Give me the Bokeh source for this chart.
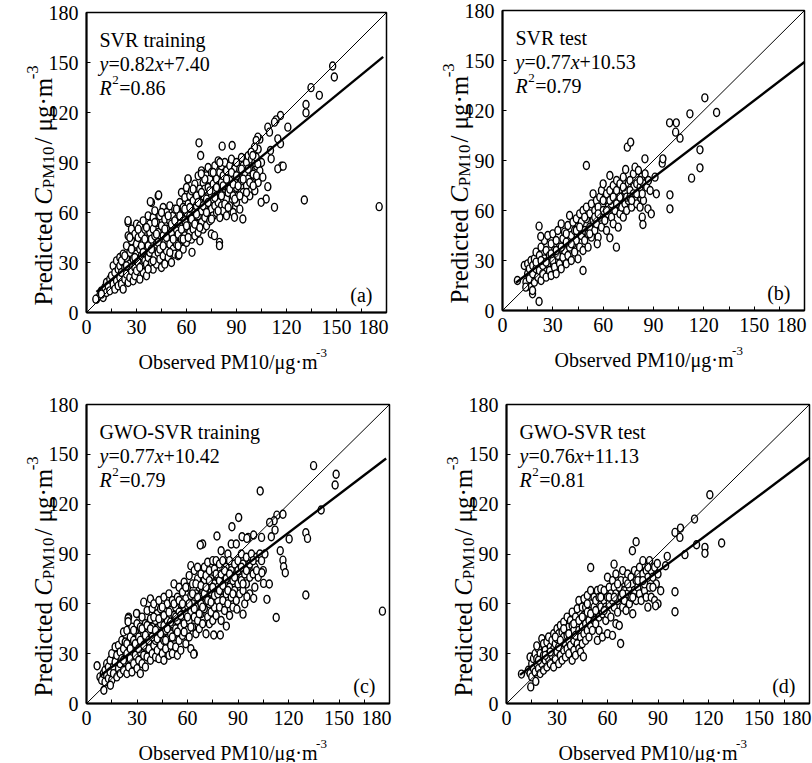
import math
from bokeh.plotting import figure
from bokeh.models import Label, Range1d, FixedTicker
from bokeh.layouts import column, row
from bokeh.embed import file_html
from bokeh.resources import INLINE

FONT = "Liberation Serif"

# ---------------- data ----------------
panel_titles = ["SVR training", "SVR test", "GWO-SVR training", "GWO-SVR test"]
panel_tags = ["(a)", "(b)", "(c)", "(d)"]
fit_slope = [0.82, 0.77, 0.77, 0.76]
fit_intercept = [7.40, 10.53, 10.42, 11.13]
fit_intercept_text = ["7.40", "10.53", "10.42", "11.13"]
r2_text = ["0.86", "0.79", "0.79", "0.81"]
fit_x_start = [6, 8, 8, 8]
fit_x_end = [178, 180, 178, 180]
axis_span = [0, 180]
x_ticks = [0, 30, 60, 90, 120, 150, 180]
x_minor_ticks = [15, 45, 75, 105, 135, 165]
y_ticks = [0, 30, 60, 90, 120, 150, 180]

svr_train = [
    (6,8),(8,10),(9,13),(10,9),(11,15),(12,12),(12,18),(13,16),(14,20),(14,13),
    (15,22),(16,17),(16,28),(17,14),(17,24),(18,31),(18,19),(19,26),(19,16),(20,33),(20,21),(20,28),(21,17),(21,24),(22,30),(22,35),(22,14),(23,20),(23,27),
    (24,33),(24,40),(24,23),(25,46),(25,18),(25,54),(26,29),(26,36),(26,21),(27,43),(27,25),(27,50),(28,32),(28,19),(28,38),(29,27),(29,47),(29,22),(30,53),(30,35),(30,41),(30,25),
    (31,30),(31,45),(32,20),(32,38),(32,52),(33,28),(33,34),(33,47),(34,24),(34,42),(34,55),(35,31),(35,37),(35,50),(36,22),(36,44),(36,29),(37,40),(37,58),(37,33),(38,27),(38,48),(38,53),(38,36),
    (39,66),(39,30),(39,44),(40,38),(40,57),(40,26),(40,50),(41,34),(41,46),(41,61),(42,41),(42,29),(42,54),(43,70),(43,36),(43,48),(44,32),(44,58),(44,44),(45,27),(45,52),(45,39),(46,63),(46,46),(46,34),
    (47,56),(47,29),(47,42),(48,50),(48,37),(48,60),(49,33),(49,45),(50,55),(50,41),(50,64),(51,30),(51,48),(52,38),(52,58),(52,52),(53,44),(53,62),(53,35),(54,50),(54,56),(54,41),
    (55,34),(55,60),(55,47),(56,66),(56,53),(56,40),(57,72),(57,44),(57,58),(58,50),(58,63),(58,38),(59,55),(59,69),(59,46),(60,42),(60,60),(60,75),(61,52),(61,80),(61,65),(62,48),(62,58),(62,70),
    (63,44),(63,62),(63,73),(64,55),(64,67),(64,50),(65,60),(65,77),(65,46),(66,70),(66,53),(66,64),(67,58),(67,82),(67,48),(68,66),(68,74),(68,43),(69,61),(69,85),(69,54),(70,70),(70,50),(70,78),
    (71,63),(71,74),(71,57),(72,82),(72,68),(72,52),(73,75),(73,60),(73,87),(74,66),(74,80),(74,55),(75,71),(75,62),(75,84),(76,77),(76,58),(76,68),(77,88),(77,73),(77,64),(78,80),(78,60),(78,70),
    (79,76),(79,91),(79,66),(80,84),(80,72),(80,57),(81,78),(81,88),(81,64),(82,82),(82,70),(82,61),(83,76),(83,90),(84,68),(84,85),(84,58),(85,79),(85,72),(86,88),(86,64),(86,80),
    (87,74),(87,92),(88,70),(88,83),(88,60),(89,78),(89,87),(90,66),(90,90),(90,75),(91,82),(91,70),(92,86),(92,62),(93,79),(93,93),(94,72),(94,88),
    (95,84),(95,68),(96,90),(96,76),(97,80),(97,94),(98,70),(98,86),(99,92),(99,78),(100,83),(100,96),(101,73),(102,88),(103,78),(103,98),(104,85),(104,104),(105,90),
    (21,31),(23,34),(24,28),(26,45),(27,38),(29,33),(31,50),(32,27),(33,40),(34,36),(35,44),(36,51),(37,26),(39,38),(40,31),(41,54),(42,47),(43,42),(44,38),(45,60),
    (46,40),(47,50),(48,45),(49,58),(50,36),(51,53),(52,44),(53,55),(54,62),(55,40),(56,58),(57,50),(58,44),(59,62),(60,52),(61,45),(62,63),(63,56),(64,74),(65,53),
    (66,59),(67,66),(68,51),(69,72),(70,64),(71,80),(72,60),(73,66),(74,73),(75,56),(76,84),(77,69),(78,75),(79,61),(80,90),(81,70),(82,76),(83,65),(84,80),(85,63),
    (86,74),(87,84),(88,77),(89,68),(90,82),(91,76),(92,70),(93,86),(94,80),(96,72),(97,86),(98,78),(100,76),(101,90),(102,82),
    (175.6,63.5),(130.7,67.5),(147.7,147.9),(148.7,141.3),(134.7,134.9),(139.7,130.3),(131.7,124.8),(131.7,119.8),(116.4,118.2),(113.8,115.6),(112.8,114.2),
    (120.8,111.2),(108.8,111.2),(109.8,108.2),(116.4,101.2),(114.8,104.2),(110.4,97.2),(117,87.8),(114.8,86.2),(118,87.8),(110.8,92.2),(112.8,63.1),(107.8,68.1),
    (104.8,66.1),(108.8,75.5),(105.8,81.2),(102.8,89.2),(101.8,93.2),(102.8,105.2),(101.8,103.2),(100.8,99.2),(98.8,96.2),(99.8,94.2),(93.8,56.1),(88.8,57.1),
    (74.9,47.1),(76.8,46.1),(79.8,42.1),(79.8,40.1),(63.3,36.1),(67.5,101.8),(68.5,94.2),(81.4,99.8),(87.4,100.2),(38.3,66.5),(43.3,70.5),(24.9,55.1),(60.9,80.2),
    (68.9,83.2),(5.6,8.0),(9,11),(55.5,34.7),
]

svr_test = [
    (13,27),(14,17),(15,22),(15,28),(16,19),(16,25),(17,14),(17,30),(18,22),(18,27),(19,17),(19,31),(20,25),(20,35),(21,20),(21,29),(22,24),(22,33),(23,18),(23,38),
    (24,27),(24,22),(25,31),(25,42),(26,20),(26,36),(27,28),(27,45),(28,24),(28,33),(29,40),(29,21),(30,30),(30,46),(31,26),(31,36),(32,42),(32,22),(33,33),(33,48),
    (34,28),(34,38),(35,52),(35,25),(36,43),(36,32),(37,36),(37,47),(38,28),(38,41),(39,51),(39,33),(40,38),(40,57),(41,45),(41,30),(42,53),(42,40),(43,35),(43,48),
    (44,55),(44,42),(45,31),(45,50),(46,38),(46,58),(47,45),(47,53),(48,36),(48,60),(49,48),(49,42),(50,55),(50,62),(51,46),(51,38),(52,58),(52,50),(53,64),(53,44),
    (54,70),(54,54),(55,60),(55,48),(56,66),(56,52),(57,62),(57,44),(58,56),(58,68),(59,72),(59,50),(60,60),(60,76),(61,54),(61,66),(62,70),(62,48),(63,62),(63,58),
    (64,81),(64,72),(65,64),(65,56),(66,75),(66,52),(67,68),(67,60),(68,72),(68,78),(69,64),(69,50),(70,76),(70,58),(71,68),(71,62),(72,80),(72,56),(73,72),(73,64),
    (74,60),(75,76),(75,66),(76,72),(77,62),(78,82),(78,70),(79,86),(79,66),(80,76),(80,64),(81,84),(81,70),(82,74),(82,62),(83,80),(84,76),(84,66),(85,82),(86,74),
    (87,78),(88,72),
    (20,29),(23,30),(26,29),(29,34),(32,36),(35,38),(38,46),(41,40),(44,48),(46,50),(49,56),(52,46),(55,56),(57,58),(60,66),(62,60),(64,66),(66,68),(68,64),(70,68),
    (72,74),(74,68),(76,78),(80,70),(82,78),
    (8.9,18),(21.8,5.4),(17.9,10),(17.9,12),(13.9,14),(21.8,50.6),(22.8,44.4),(50,87),(48,24),(56.5,40),(67.9,38),(64,43.6),(74.4,98),(76.4,101),(73.4,84.6),
    (84.9,91),(83.3,70),(83.3,56),(83.7,51.6),(86.7,61),(88.7,58),(91.7,70),(90.9,80),(95.2,88.4),(95.6,91),(99.6,112.6),(103.6,112.6),(103.2,107),(105.8,103.4),
    (99.8,69.4),(99.8,61),(111.7,118),(120.6,127.6),(127.6,118.8),(117.7,96.4),(117.7,85.6),(112.7,79.4),(76,68),(77,66),
]

gwo_train = [
    (8,16),(9,14),(10,18),(11,20),(11,13),(12,17),(12,24),(13,15),(13,22),(14,19),(14,26),
    (15,14),(15,30),(16,22),(16,18),(17,34),(17,25),(18,16),(18,29),(19,21),(19,35),(20,24),(20,18),(20,31),(21,38),(21,27),(22,20),(22,33),(22,43),
    (23,25),(23,37),(24,18),(24,30),(24,44),(25,22),(25,52),(25,35),(26,27),(26,40),(27,19),(27,33),(27,46),(28,24),(28,38),(29,29),(29,43),(30,21),(30,35),(30,48),(30,54),
    (31,26),(31,40),(32,31),(32,46),(32,18),(33,37),(33,52),(33,24),(34,42),(34,29),(34,61),(35,34),(35,48),(35,22),(36,39),(36,56),(36,28),(37,44),(37,33),(38,51),(38,26),(38,38),(38,63),
    (39,30),(39,46),(39,57),(40,35),(40,42),(40,60),(41,28),(41,50),(41,38),(42,54),(42,32),(42,45),(43,40),(43,62),(43,27),(44,48),(44,35),(44,57),(45,30),(45,52),(45,42),(46,64),(46,38),(46,47),(46,26),
    (47,55),(47,33),(47,44),(48,60),(48,39),(48,50),(49,29),(49,47),(49,66),(50,42),(50,56),(50,35),(51,62),(51,48),(51,30),(52,53),(52,40),(52,72),(53,45),(53,58),(53,34),(54,64),(54,50),(54,29),
    (55,38),(55,55),(55,70),(56,46),(56,60),(56,32),(57,67),(57,52),(57,41),(58,73),(58,48),(58,58),(59,36),(59,63),(59,54),(60,44),(60,70),(60,59),(61,50),(61,77),(61,40),(62,65),(62,55),(62,83),(62,33),
    (63,46),(63,72),(63,60),(64,30),(64,52),(64,80),(65,66),(65,42),(65,58),(66,75),(66,50),(66,82),(67,62),(67,45),(67,70),(68,54),(68,78),(68,60),(69,96),(69,48),(69,68),(70,74),(70,57),(70,82),
    (71,64),(71,42),(71,77),(72,52),(72,70),(72,85),(73,60),(73,48),(73,80),(74,67),(74,75),(74,55),(75,86),(75,62),(75,50),(76,72),(76,81),(76,58),(77,66),(77,86),(77,53),(78,76),(78,62),(78,70),
    (79,84),(79,58),(79,74),(80,68),(80,92),(80,50),(81,78),(81,62),(81,86),(82,72),(82,56),(83,82),(83,66),(84,90),(84,60),(84,76),(85,70),(85,53),(85,86),(86,64),(86,80),(86,96),
    (87,74),(87,58),(88,84),(88,68),(89,78),(89,62),(89,96),(90,72),(90,86),(91,66),(91,80),(92,74),(92,90),(93,84),(93,68),(94,78),(94,60),
    (95,88),(95,72),(96,82),(96,100),(97,76),(97,66),(98,86),(98,90),(99,78),(100,82),(100,70),(101,88),(102,76),(103,90),(104,86),(104,100),(105,80),(106,90),
    (22,26),(24,36),(26,33),(28,44),(29,36),(31,33),(32,38),(33,45),(34,35),(35,41),(36,47),(37,38),(38,45),(39,40),(40,52),(41,44),(42,39),(43,51),(44,42),(45,58),
    (46,53),(47,38),(48,45),(49,55),(50,49),(51,40),(52,60),(53,52),(54,43),(55,62),(56,53),(57,60),(58,43),(59,70),(60,52),(61,60),(62,46),(63,66),(64,57),(65,72),
    (66,64),(67,54),(68,71),(69,58),(70,66),(71,70),(72,62),(73,74),(74,61),(75,70),(76,65),(77,78),(78,66),(79,68),(80,78),(81,71),(82,80),(83,75),(84,68),(85,78),
    (87,66),(88,76),(90,80),(92,82),(93,72),(95,80),(97,84),(99,86),(101,80),
    (6.3,22.7),(10.3,8),(14.2,11),(175.8,55.6),(134.9,143.2),(148.3,138),(147.7,131.5),(139.4,116.5),(130.3,102.8),(131.3,99.4),(130.3,65.3),(120.4,99),
    (112.7,51.8),(103.2,127.9),(90.4,112),(86.4,106.4),(77.5,100.8),(67.6,95.4),(113.1,113.4),(111.5,110),(112,104.4),(116.7,113.9),(108.8,109),(109.8,100.4),
    (115.1,92),(116.7,86.3),(117.1,82.3),(118.1,78.7),(105.2,72.3),(107.2,62.7),(108.6,71.9),(104.2,78.7),(93,53.8),(89.4,56.8),(83.1,46.6),(79.5,41.2),
    (75.6,41.2),(63.7,29.7),(24.7,51.2),(24.7,49.2),(29.7,54.2),(95.3,64.3),(99.3,63.3),(92.4,100.4),(99.3,101.4),(95.3,99.4),
]

gwo_test = [
    (13,20),(14,28),(14,18),(15,24),(15,16),(16,27),(16,21),(17,19),(17,30),(18,24),(18,27),(19,21),(19,33),(20,26),(20,18),(20,30),
    (21,39),(21,24),(22,29),(22,36),(22,20),(23,32),(23,26),(24,37),(24,22),(25,30),(25,40),(25,27),(26,34),(26,24),(27,38),(27,29),(28,42),(28,33),(28,22),
    (29,36),(29,27),(30,45),(30,31),(30,39),(31,24),(31,42),(31,34),(32,47),(32,29),(33,37),(33,43),(33,26),(34,40),(34,49),(34,32),(35,36),(35,44),(35,28),(36,41),(36,52),(36,33),
    (37,46),(37,30),(37,38),(38,50),(38,35),(38,42),(39,26),(39,47),(39,55),(40,38),(40,44),(40,32),(41,52),(41,41),(41,29),(42,48),(42,36),(42,57),(43,44),(43,62),(43,33),(44,50),(44,40),(44,31),
    (45,46),(45,58),(45,36),(46,42),(46,53),(46,63),(47,38),(47,48),(47,58),(48,44),(48,55),(48,65),(49,50),(49,40),(50,60),(50,47),(50,68),(51,54),(51,44),(52,58),(52,50),(52,64),
    (53,48),(53,62),(54,56),(54,68),(54,38),(55,52),(55,64),(55,44),(56,58),(56,69),(57,54),(57,40),(58,62),(58,68),(59,50),(59,58),(60,64),(60,42),(60,76),(60,54),
    (61,60),(61,70),(62,52),(62,66),(63,62),(63,74),(63,41),(64,58),(64,70),(65,66),(65,48),(65,78),(66,62),(66,55),(67,70),(67,47),(68,64),(68,74),
    (69,58),(69,80),(70,68),(70,62),(71,74),(71,56),(72,66),(72,78),(73,60),(73,70),(74,76),(74,64),(75,54),(75,72),(76,68),(76,80),(77,62),(77,74),(78,70),(78,78),
    (79,66),(79,82),(80,74),(80,62),(81,78),(81,86),(82,68),(82,72),(83,80),(83,64),(84,76),(84,58),(85,70),(85,86),(86,80),(86,64),(87,76),(88,62),(88,82),(89,72),(90,60),(90,78),
    (19,26),(23,29),(26,31),(29,40),(32,38),(34,45),(37,42),(40,48),(43,50),(45,52),(48,60),(50,54),(53,56),(56,64),(58,56),(61,64),(64,64),(66,72),(69,66),(72,72),
    (75,64),(78,74),(81,74),(84,82),(87,70),
    (8.9,17.7),(14.4,10),(17.4,13.3),(18,34.7),(50,81.9),(45.7,28.1),(67.8,36.1),(74.8,92),(77,97.4),(63.9,83.9),(100.1,103),(100.1,67.3),(100.1,55.2),
    (103.4,105.6),(103,100),(106,89.6),(111.7,111),(112.9,95.6),(117.9,94),(117.9,90.4),(120.8,125.7),(127.8,96.6),(95.5,88.6),(94.5,82.9),(91.6,67.9),
    (88.6,58.8),(89.6,84.3),
]

panel_points = [svr_train, svr_test, gwo_train, gwo_test]

# ---------------- layout (pixels) ----------------
canvas_w = [410, 402, 410, 402]
canvas_h = [392, 392, 370, 370]
box_left = [86, 92, 86, 96]     # px from canvas left to the plot box
box_top = [12, 10, 12, 12]      # px from canvas top to the plot box
box_w = [300, 302, 303, 303]
box_h = [300, 300, 299, 299]

TICK_PX = 20
TXT_PX = 20


def lab(p, text, x, y, dx, dy, size, style="normal", angle=0.0, align="left", baseline="alphabetic"):
    p.add_layout(Label(x=x, y=y, x_offset=dx, y_offset=dy, text=text, text_font=FONT,
                       text_font_size=f"{size}px", text_font_style=style, text_color="black",
                       angle=angle, text_align=align, text_baseline=baseline))


def make_panel(i):
    lo, hi = axis_span
    ux = (hi - lo) / box_w[i]
    uy = (hi - lo) / box_h[i]
    xr = Range1d(lo - box_left[i] * ux, lo + (canvas_w[i] - box_left[i]) * ux)
    yr = Range1d(hi - (canvas_h[i] - box_top[i]) * uy, hi + box_top[i] * uy)
    p = figure(width=canvas_w[i], height=canvas_h[i], min_border=0,
               x_range=xr, y_range=yr, output_backend="svg", toolbar_location=None, tools="")
    p.grid.visible = False
    p.background_fill_color = "white"
    p.border_fill_color = "white"
    p.outline_line_color = None

    pts = panel_points[i]
    xs = [a for a, b in pts]
    ys = [b for a, b in pts]
    p.ellipse(x=xs, y=ys, width=6, height=8, width_units="screen", height_units="screen",
              fill_color="white", line_color="black", line_width=1.4)
    p.line(axis_span, axis_span, line_color="black", line_width=1)
    x0, x1 = fit_x_start[i], fit_x_end[i]
    a, b = fit_slope[i], fit_intercept[i]
    p.line([x0, x1], [a * x0 + b, a * x1 + b], line_color="black", line_width=2.4)
    # plot box
    p.quad(left=[lo], right=[hi], bottom=[lo], top=[hi], fill_color=None,
           line_color="black", line_width=1.5)

    xa = p.xaxis[0]
    ya = p.yaxis[0]
    xa.fixed_location = lo
    ya.fixed_location = lo
    xa.ticker = FixedTicker(ticks=x_ticks, minor_ticks=x_minor_ticks)
    ya.ticker = FixedTicker(ticks=y_ticks, minor_ticks=[])
    xa.major_label_overrides = {x_ticks[-1]: ""}
    for ax in (xa, ya):
        ax.bounds = (lo, hi)
        ax.major_tick_in = 4
        ax.major_tick_out = 0
        ax.minor_tick_in = 4
        ax.minor_tick_out = 0
        ax.axis_line_width = 2
        ax.axis_line_color = "black"
        ax.major_tick_line_color = "black"
        ax.minor_tick_line_color = "black"
        ax.major_label_text_font = FONT
        ax.major_label_text_font_size = f"{TICK_PX}px"
        ax.major_label_text_color = "black"
    xa.major_label_standoff = 7
    ya.major_label_standoff = 8
    ya.minor_tick_line_color = None

    # last x tick label, flush with the box edge
    lab(p, str(x_ticks[-1]), hi, lo, 2, -7, TICK_PX, align="right", baseline="top")

    # in-box annotations
    lab(p, panel_titles[i], lo, hi, 13, -27, TXT_PX)
    eq_parts = [("y", "italic", 0.444), ("=" + f"{fit_slope[i]:.2f}", "normal", 2.314),
                ("x", "italic", 0.444), ("+" + fit_intercept_text[i], "normal", 0.0)]
    cx = 13.0
    for t, st, w in eq_parts:
        lab(p, t, lo, hi, cx, -51, TXT_PX, style=st)
        cx += w * TXT_PX
    rw = 0.611 * TXT_PX
    lab(p, "R", lo, hi, 13, -75, TXT_PX, style="italic")
    lab(p, "2", lo, hi, 13 + rw + 0.5, -67, 13)
    lab(p, "=" + r2_text[i], lo, hi, 13 + rw + 7.5, -75, TXT_PX)
    lab(p, panel_tags[i], hi, lo, -14, 18, TXT_PX, align="right")

    # x axis title
    xt = 20
    lab(p, "Observed PM10/μg·m", lo, lo, 52, -49, xt)
    lab(p, "-3", lo, lo, 52 + 8.88 * xt, -40, 13)

    # y axis title (rotated, reads bottom to top)
    ang = math.pi / 2
    bx = -43
    yt = 25
    ys_ = 17
    cy = 7.0
    lab(p, "Predicted ", lo, lo, bx, cy, yt, angle=ang)
    cy += 4.027 * yt
    lab(p, "C", lo, lo, bx, cy, yt, style="italic", angle=ang)
    cy += 0.667 * yt
    lab(p, "PM10", lo, lo, bx + 5, cy, ys_, angle=ang)
    cy += 2.445 * ys_ + 2
    lab(p, "/ μg·m", lo, lo, bx, cy, yt, angle=ang)
    cy += 2.61 * yt
    lab(p, "-3", lo, lo, bx - 11, cy, ys_, angle=ang)
    return p


figs = [make_panel(i) for i in range(4)]
layout = column(row(figs[0], figs[1]), row(figs[2], figs[3]))
open("out.html", "w").write(file_html(layout, INLINE))
